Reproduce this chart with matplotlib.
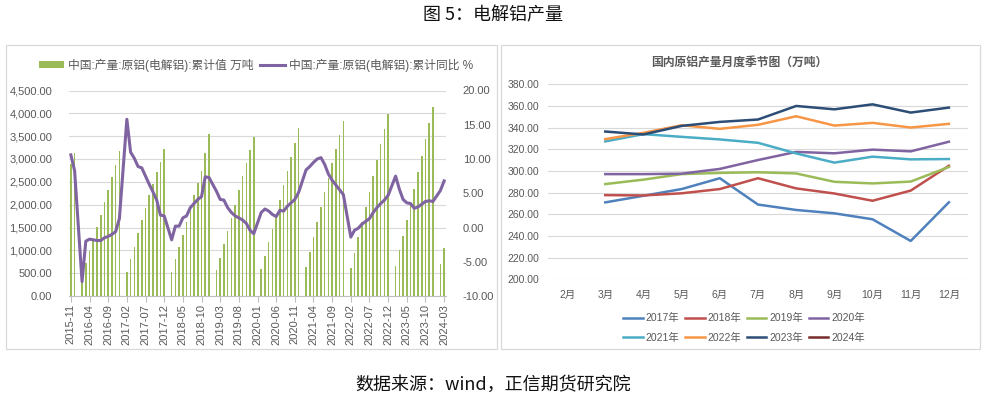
import numpy as np
import pandas as pd
import matplotlib
matplotlib.use("Agg")
import matplotlib.pyplot as plt
from matplotlib.patches import Rectangle, Patch
from matplotlib.lines import Line2D
from matplotlib.ticker import FuncFormatter

plt.rcParams["font.family"] = ["Liberation Sans", "Noto Sans CJK SC", "DejaVu Sans"]

TEXT = "#595959"
GRID = "#d9d9d9"
W, H = 986, 397

# ---- left chart: cumulative primary aluminium output (万吨) and cumulative YoY (%)
# monthly, 2015-11 .. 2024-03; January has no data (reported with February)
months = pd.period_range("2015-11", "2024-03", freq="M").strftime("%Y-%m").tolist()
N = None
cum_output = [
    2890, 3136,
    N, 470, 715, 990, 1250, 1503, 1774, 2050, 2320, 2598, 2868, 3165,
    N, 532, 810, 1080, 1371, 1663, 1933, 2210, 2443, 2713, 2925, 3216,
    N, 518, 810, 1066, 1335, 1627, 1933, 2210, 2480, 2735, 3122, 3545,
    N, 569, 839, 1131, 1422, 1713, 1991, 2326, 2626, 2903, 3195, 3473,
    N, 584, 875, 1175, 1466, 1772, 2100, 2429, 2735, 3048, 3355, 3683,
    N, 642, 970, 1284, 1627, 1955, 2283, 2575, 2903, 3217, 3523, 3829,
    N, 620, 934, 1284, 1627, 1941, 2283, 2633, 2976, 3319, 3654, 3990,
    N, 656, 1006, 1313, 1663, 1991, 2341, 2706, 3063, 3429, 3779, 4136,
    N, 700, 1057,
]
cum_yoy = [
    10.6, 8.3,
    N, -7.9, -2.0, -1.7, -1.8, -1.9, -1.9, -1.5, -1.3, -1.0, -0.6, 1.3,
    N, 15.8, 11.0, 10.1, 8.9, 8.7, 7.5, 6.3, 5.2, 4.0, 1.8, 1.7,
    N, -1.8, 0.2, 0.2, 1.4, 1.7, 2.9, 3.5, 4.1, 4.5, 7.4, 7.3,
    N, 5.3, 4.1, 4.0, 2.9, 2.2, 1.7, 1.4, 1.1, 0.6, -0.4, -0.9,
    N, 2.2, 2.7, 2.4, 1.9, 1.6, 2.5, 2.4, 3.1, 3.6, 4.1, 5.1,
    N, 8.4, 8.9, 9.5, 10.0, 10.2, 9.2, 7.8, 6.9, 6.2, 5.5, 4.8,
    N, -1.4, -0.4, -0.1, 0.5, 0.9, 1.3, 2.2, 2.9, 3.5, 4.0, 4.7,
    N, 7.5, 5.6, 4.1, 3.6, 3.5, 2.8, 3.0, 3.4, 3.8, 3.9, 3.8,
    N, 5.4, 6.8,
]
bar_label = "中国:产量:原铝(电解铝):累计值 万吨"
line_label = "中国:产量:原铝(电解铝):累计同比 %"

# ---- right chart: monthly output by year (万吨)
season_months = ["2月", "3月", "4月", "5月", "6月", "7月", "8月", "9月", "10月", "11月", "12月"]
season_years = ["2017年", "2018年", "2019年", "2020年", "2021年", "2022年", "2023年", "2024年"]
y2017 = [N, 271.0, 277.1, 283.3, 293.3, 269.0, 264.0, 260.9, 255.4, 235.4, 271.1]
y2018 = [N, 277.7, 277.4, 279.4, 283.3, 293.3, 283.9, 279.2, 272.5, 281.9, 304.8]
y2019 = [N, 287.9, 292.0, 297.1, 298.2, 298.8, 297.7, 290.0, 288.5, 290.2, 303.7]
y2020 = [N, 297.1, 297.1, 297.5, 301.9, 310.1, 317.6, 316.3, 319.7, 318.1, 327.0]
y2021 = [N, 327.3, 334.0, 331.5, 329.1, 326.0, 316.2, 307.7, 313.2, 310.7, 311.0]
y2022 = [N, 329.4, 335.2, 342.2, 338.9, 342.6, 350.5, 341.9, 344.4, 340.1, 343.5]
y2023 = [N, 336.4, 333.7, 341.6, 345.3, 347.5, 360.0, 356.9, 361.5, 353.9, 358.5]
y2024 = [N] * 11
season_series = [y2017, y2018, y2019, y2020, y2021, y2022, y2023, y2024]
season_colors = ["#4F81BD", "#C0504D", "#9BBB59", "#8064A2",
                 "#4BACC6", "#F79646", "#2C4D75", "#772C2A"]


def fx(px):
    return px / W


def fy(py):
    return 1 - py / H


fig = plt.figure(figsize=(W / 100, H / 100), dpi=100)

# panel frames
for x0, x1 in [(6, 497), (501, 980)]:
    fig.add_artist(Rectangle((fx(x0), fy(349)), fx(x1 - x0), (349 - 45) / H,
                             transform=fig.transFigure, fill=False,
                             edgecolor=GRID, linewidth=0.9))

fig.text(0.5, fy(15), "图 5：电解铝产量", ha="center", va="center",
         fontsize=13, family=["Noto Sans CJK SC"], color="#111111")
fig.text(0.5, fy(385), "数据来源：wind，正信期货研究院", ha="center", va="center",
         fontsize=13, family=["Noto Sans CJK SC"], color="#111111")

# ---- left chart
ax1 = fig.add_axes([fx(69), fy(296), fx(446 - 69), (296 - 90.5) / H])
x = np.arange(len(months))
out = np.array(cum_output, dtype=float)
yoy = np.array(cum_yoy, dtype=float)
ax1.bar(x, out, width=0.42, color="#9BBB59", zorder=2)
ax1.set_xlim(-0.5, len(months) - 0.5)
ax1.set_ylim(0, 4500)
ax1.set_yticks(np.arange(0, 4501, 500))
ax1.yaxis.set_major_formatter(FuncFormatter(lambda v, p: f"{v:,.2f}"))
ax1.grid(axis="y", color=GRID, linewidth=0.8, zorder=0)
ax1.set_axisbelow(True)
ax1.set_xticks(x[::5])
ax1.set_xticklabels(months[::5], rotation=90)
ax1.tick_params(axis="x", length=4, color="#bfbfbf", labelsize=8, labelcolor=TEXT, pad=2)
ax1.tick_params(axis="y", length=0, labelsize=8, labelcolor=TEXT, pad=12)
for s in ["left", "right", "top"]:
    ax1.spines[s].set_visible(False)
ax1.spines["bottom"].set_color("#bfbfbf")

ax2 = ax1.twinx()
ok = ~np.isnan(yoy)
ax2.plot(x[ok], yoy[ok], color="#8064A2", linewidth=2.2, zorder=3)
ax2.set_ylim(-10, 20)
ax2.set_yticks(np.arange(-10, 21, 5))
ax2.yaxis.set_major_formatter(FuncFormatter(lambda v, p: f"{v:.2f}"))
ax2.tick_params(axis="y", length=0, labelsize=8, labelcolor=TEXT, pad=12)
for s in ["left", "right", "top", "bottom"]:
    ax2.spines[s].set_visible(False)

handles = [Patch(facecolor="#9BBB59", edgecolor="none"),
           Line2D([], [], color="#8064A2", linewidth=2.2)]
fig.legend(handles, [bar_label, line_label], loc="center",
           bbox_to_anchor=(fx(256), fy(65)), ncol=2, frameon=False,
           fontsize=8.5, labelcolor=TEXT, handlelength=2.1, handleheight=0.55,
           handletextpad=0.3, columnspacing=0.6)

# ---- right chart
ax3 = fig.add_axes([fx(548), fy(279.3), fx(968 - 548), 195 / H])
xm = np.arange(len(season_months))
lines = []
for vals, lab, col in zip(season_series, season_years, season_colors):
    ln, = ax3.plot(xm, np.array(vals, dtype=float), color=col, linewidth=1.8, label=lab)
    lines.append(ln)
ax3.set_xlim(-0.5, len(season_months) - 0.5)
ax3.set_ylim(200, 380)
ax3.set_yticks(np.arange(200, 381, 20))
ax3.yaxis.set_major_formatter(FuncFormatter(lambda v, p: f"{v:.2f}"))
ax3.set_xticks(xm)
ax3.set_xticklabels(season_months)
ax3.grid(axis="y", color=GRID, linewidth=0.8)
ax3.set_axisbelow(True)
ax3.tick_params(axis="both", length=0, labelsize=7.5, labelcolor=TEXT)
ax3.tick_params(axis="y", pad=6)
ax3.tick_params(axis="x", pad=8)
for s in ax3.spines.values():
    s.set_visible(False)

fig.text(fx(739), fy(62.7), "国内原铝产量月度季节图（万吨）", ha="center", va="center",
         fontsize=8.5, fontweight="bold", color=TEXT, family=["Noto Sans CJK SC"])

# legend filled column-wise, so interleave to get two rows of four
order = [0, 4, 1, 5, 2, 6, 3, 7]
fig.legend([lines[i] for i in order], [season_years[i] for i in order], loc="center",
           bbox_to_anchor=(fx(744), fy(328)), ncol=4, frameon=False,
           fontsize=7.5, labelcolor=TEXT, handlelength=1.9, handletextpad=0.3,
           columnspacing=0.5, labelspacing=0.9)

fig.savefig("out.png", dpi=100)
